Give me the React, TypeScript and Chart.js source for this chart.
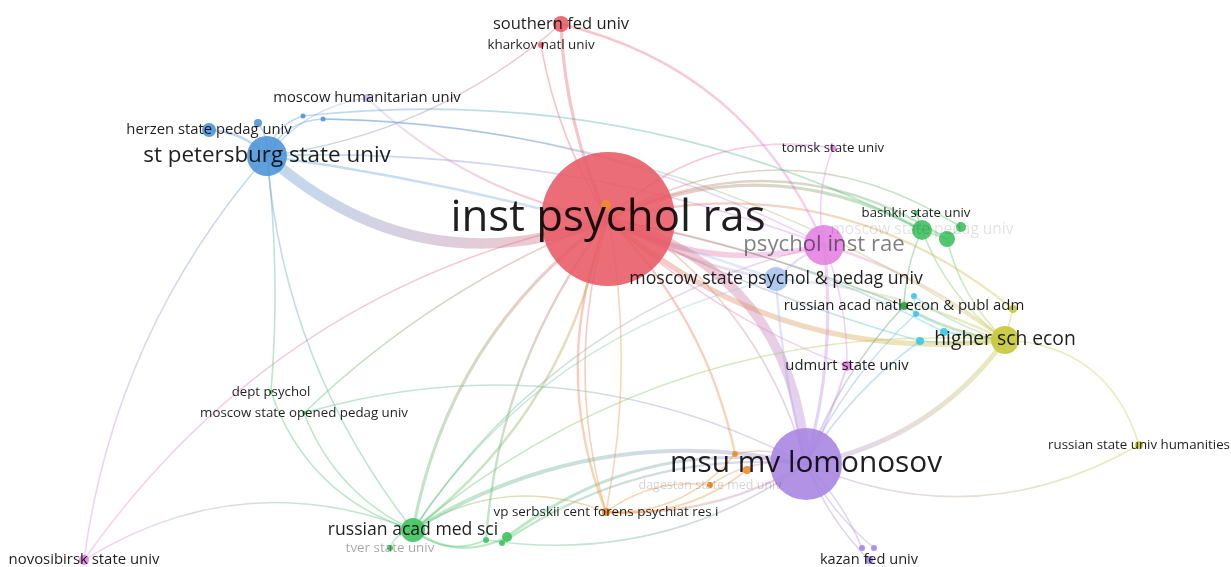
import React, { useEffect, useRef } from "react";
import { Chart, registerables } from "chart.js";

Chart.register(...registerables);

// ---------- DATA ----------
const NODE_LABELS: string[] = [
  "inst psychol ras", // 0
  "msu mv lomonosov", // 1
  "st petersburg state univ", // 2
  "psychol inst rae", // 3
  "higher sch econ", // 4
  "russian acad med sci", // 5
  "moscow state psychol & pedag univ", // 6
  "southern fed univ", // 7
  "kharkov natl univ", // 8
  "moscow humanitarian univ", // 9
  "herzen state pedag univ", // 10
  "", // 11
  "", // 12
  "", // 13
  "tomsk state univ", // 14
  "bashkir state univ", // 15
  "moscow state pedag univ", // 16
  "", // 17
  "", // 18
  "russian acad natl econ & publ adm", // 19
  "", // 20
  "", // 21
  "", // 22
  "", // 23
  "", // 24
  "udmurt state univ", // 25
  "russian state univ humanities", // 26
  "", // 27
  "", // 28
  "dagestan state med univ", // 29
  "vp serbskii cent forens psychiat res i", // 30
  "", // 31
  "", // 32
  "", // 33
  "tver state univ", // 34
  "kazan fed univ", // 35
  "", // 36
  "", // 37
  "novosibirsk state univ", // 38
  "dept psychol", // 39
  "moscow state opened pedag univ", // 40
  "", // 41
];

const NODE_X: number[] = [
  608, 806, 267, 824, 1005, 413, 776, 561, 541, 367, 209, 258, 303, 323, 833,
  916, 922, 947, 961, 904, 914, 916, 944, 920, 1013, 847, 1139, 735, 747, 710,
  606, 486, 502, 507, 390, 869, 862, 874, 84, 271, 304, 606,
];

const NODE_Y: number[] = [
  219, 464, 156, 245, 340, 530, 279, 24, 45, 98, 130, 123, 116, 119, 148, 213,
  230, 239, 227, 306, 296, 314, 332, 341, 309, 366, 445, 454, 470, 485, 512,
  540, 543, 537, 548, 560, 548, 548, 560, 392, 413, 205,
];

const NODE_SIZE: number[] = [
  67, 36, 20, 20, 14, 12, 12, 8, 3, 4, 7, 4, 2.5, 2.5, 3, 2.5, 10, 8, 5, 4, 3,
  3, 4, 4, 4, 5, 4, 3, 4, 3, 4, 3, 3, 5, 3, 4, 3, 3, 5, 2, 2, 5,
];

const NODE_CLUSTER: number[] = [
  0, 1, 2, 3, 4, 5, 6, 0, 0, 7, 2, 2, 2, 2, 3, 5, 5, 5, 5, 10, 8, 8, 8, 8, 4, 3,
  4, 9, 9, 9, 9, 5, 5, 5, 5, 1, 1, 1, 3, 5, 5, 9,
];

// [source, target, link strength, curvature]
const EDGES: [number, number, number, number][] = [
  [2, 0, 12, 0.3],
  [0, 1, 11, -0.35],
  [0, 3, 6, 0.2],
  [0, 4, 6, 0.22],
  [1, 4, 5, 0.2],
  [5, 0, 3, -0.2],
  [31, 0, 2, -0.15],
  [30, 0, 2, -0.2],
  [27, 0, 2, 0.15],
  [1, 5, 4, 0.2],
  [1, 33, 3, 0.22],
  [1, 32, 2, 0.18],
  [1, 31, 1, -0.2],
  [5, 33, 2, 0.3],
  [5, 31, 1, 0.3],
  [5, 34, 1, 0.3],
  [1, 30, 2, -0.15],
  [30, 27, 1, 0.25],
  [30, 29, 1, -0.2],
  [30, 28, 1, 0.2],
  [1, 27, 1, 0.2],
  [1, 29, 1, 0.2],
  [30, 5, 1, 0.25],
  [1, 3, 3, 0.1],
  [1, 25, 2, 0.05],
  [1, 6, 2, -0.05],
  [1, 35, 1, 0.1],
  [1, 36, 1, -0.1],
  [1, 37, 1, 0.1],
  [1, 26, 1, 0.25],
  [4, 26, 1, -0.35],
  [7, 0, 3, 0.1],
  [8, 0, 1, 0.1],
  [7, 3, 2, -0.25],
  [7, 2, 1, -0.15],
  [9, 0, 2, 0.15],
  [2, 9, 1, -0.2],
  [2, 10, 2, 0.2],
  [2, 11, 1, 0.2],
  [2, 12, 1, -0.3],
  [2, 13, 1, -0.3],
  [13, 3, 1, -0.12],
  [12, 16, 1, -0.15],
  [13, 4, 1, -0.15],
  [2, 3, 1, -0.1],
  [2, 6, 2, -0.05],
  [2, 5, 1, 0.15],
  [38, 2, 1, -0.15],
  [38, 0, 1, -0.2],
  [38, 5, 1, -0.25],
  [39, 5, 1, 0.25],
  [39, 2, 1, 0.05],
  [40, 1, 1, -0.2],
  [40, 0, 1, -0.1],
  [40, 5, 1, 0.2],
  [0, 16, 3, -0.25],
  [0, 17, 2, -0.28],
  [0, 18, 1, -0.3],
  [16, 17, 1, 0],
  [17, 18, 1, 0],
  [15, 16, 1, 0],
  [16, 19, 1, 0.1],
  [16, 4, 1, 0.15],
  [17, 4, 1, 0.15],
  [19, 4, 1, 0.1],
  [19, 0, 1, 0.05],
  [19, 1, 1, 0.1],
  [20, 4, 1, 0.1],
  [21, 4, 1, 0.1],
  [22, 4, 2, 0],
  [23, 4, 1, 0.05],
  [20, 21, 1, 0],
  [23, 0, 1, -0.05],
  [22, 0, 1, 0.08],
  [23, 1, 1, 0.1],
  [21, 1, 1, 0.1],
  [24, 4, 1, 0],
  [0, 24, 2, -0.25],
  [4, 6, 2, 0.1],
  [4, 3, 2, 0.1],
  [14, 3, 1, 0.15],
  [14, 0, 1, 0.25],
  [25, 3, 1, 0.1],
  [25, 0, 1, -0.1],
  [3, 6, 2, 0.1],
  [0, 6, 3, 0.1],
  [41, 5, 2, -0.2],
  [41, 30, 1, -0.1],
  [41, 1, 1, -0.2],
  [0, 30, 1, 0.15],
  [3, 5, 1, 0.2],
  [4, 5, 1, 0.2],
  [6, 5, 1, 0.2],
];

// ---------- STYLE ----------
const CLUSTER_COLORS = [
  "#e85d68", // red
  "#a986e2", // purple
  "#4f96d8", // blue
  "#e383e2", // pink
  "#c8c83a", // yellow
  "#40c262", // green
  "#a9c3ec", // light blue
  "#c8b8ec", // lavender
  "#3cc8e6", // cyan
  "#f08c2c", // orange
  "#2f9e3e", // dark green
];

// label font size (px) per node
const LABEL_FONT: number[] = [
  43.8, 29.8, 22.4, 22.2, 19.3, 17.6, 17.7, 16.5, 13.4, 14.8, 14.8, 0, 0, 0,
  13.3, 13.2, 15.5, 0, 0, 14.95, 0, 0, 0, 0, 0, 14.8, 13.3, 0, 0, 12.5, 13.4, 0,
  0, 0, 13.4, 14.6, 0, 0, 14.9, 13.25, 13.3, 0,
];

const LABEL_ALPHA: Record<number, number> = { 3: 0.5, 16: 0.12, 29: 0.18, 34: 0.35 };

function hexToRgba(hex: string, a: number): string {
  const n = parseInt(hex.slice(1), 16);
  return `rgba(${(n >> 16) & 255},${(n >> 8) & 255},${n & 255},${a})`;
}

const networkPlugin = {
  id: "network",
  beforeDatasetsDraw(chart: any) {
    const ctx = chart.ctx;
    const xs = chart.scales.x;
    const ys = chart.scales.y;
    ctx.save();
    ctx.lineCap = "round";
    EDGES.forEach(([a, b, w, bend]) => {
      const x1 = xs.getPixelForValue(NODE_X[a]);
      const y1 = ys.getPixelForValue(NODE_Y[a]);
      const x2 = xs.getPixelForValue(NODE_X[b]);
      const y2 = ys.getPixelForValue(NODE_Y[b]);
      const dx = x2 - x1;
      const dy = y2 - y1;
      const cx = (x1 + x2) / 2 - bend * dy;
      const cy = (y1 + y2) / 2 + bend * dx;
      const g = ctx.createLinearGradient(x1, y1, x2, y2);
      const alpha = 0.36;
      g.addColorStop(0, hexToRgba(CLUSTER_COLORS[NODE_CLUSTER[a]], alpha));
      g.addColorStop(1, hexToRgba(CLUSTER_COLORS[NODE_CLUSTER[b]], alpha));
      ctx.strokeStyle = g;
      ctx.lineWidth = 0.8 + w * 0.8;
      ctx.beginPath();
      ctx.moveTo(x1, y1);
      ctx.quadraticCurveTo(cx, cy, x2, y2);
      ctx.stroke();
    });
    ctx.restore();
  },
  afterDatasetsDraw(chart: any) {
    const ctx = chart.ctx;
    const xs = chart.scales.x;
    const ys = chart.scales.y;
    ctx.save();
    ctx.textAlign = "center";
    ctx.textBaseline = "middle";
    NODE_LABELS.forEach((label, i) => {
      if (!label) return;
      const size = LABEL_FONT[i] || 13;
      const a = LABEL_ALPHA[i] ?? 0.88;
      ctx.font = `${size}px "Open Sans"`;
      ctx.fillStyle = `rgba(0,0,0,${a})`;
      ctx.fillText(label, xs.getPixelForValue(NODE_X[i]), ys.getPixelForValue(NODE_Y[i]));
    });
    ctx.restore();
  },
};

export default function App() {
  const ref = useRef<HTMLCanvasElement>(null);
  useEffect(() => {
    if (!ref.current) return;
    const chart = new Chart(ref.current, {
      type: "bubble",
      data: {
        datasets: [
          {
            data: NODE_X.map((x, i) => ({ x, y: NODE_Y[i], r: NODE_SIZE[i] })),
            backgroundColor: NODE_CLUSTER.map((c) => hexToRgba(CLUSTER_COLORS[c], 0.9)),
            borderWidth: 0,
            hoverRadius: 0,
            clip: false as any,
          },
        ],
      },
      options: {
        responsive: false,
        animation: false,
        events: [],
        layout: { padding: 0, autoPadding: false },
        plugins: { legend: { display: false }, tooltip: { enabled: false } },
        scales: {
          x: { type: "linear", min: 0, max: 1231, display: false },
          y: { type: "linear", min: 0, max: 567, reverse: true, display: false },
        },
      },
      plugins: [networkPlugin],
    });
    return () => chart.destroy();
  }, []);
  return (
    <div style={{ position: "fixed", left: 0, top: 0, width: 1231, height: 567, background: "#fff" }}>
      <canvas ref={ref} width={1231} height={567} />
    </div>
  );
}
